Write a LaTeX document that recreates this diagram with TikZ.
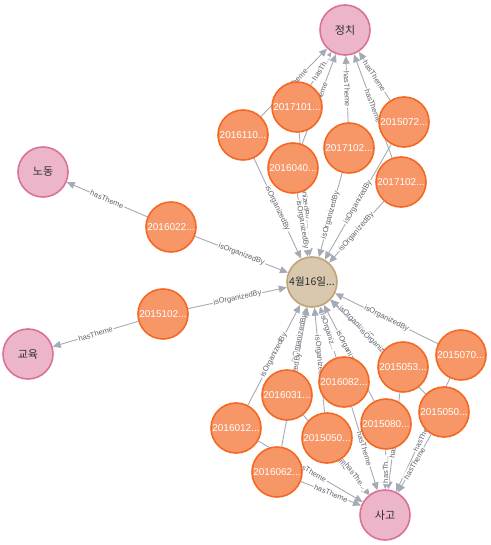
\documentclass[tikz,border=0pt]{standalone}
\usepackage{fontspec}
\setmainfont{Liberation Sans}
\newfontfamily\kr{Noto Sans CJK KR}
\usetikzlibrary{arrows.meta}
\definecolor{orfill}{HTML}{F79767}
\definecolor{orline}{HTML}{F36924}
\definecolor{pkfill}{HTML}{ECB5C9}
\definecolor{pkline}{HTML}{DA7298}
\definecolor{tnfill}{HTML}{D9C8AE}
\definecolor{tnline}{HTML}{C0A378}
\definecolor{edgec}{HTML}{A5ABB6}
\definecolor{labc}{HTML}{5E6269}
\definecolor{txtc}{HTML}{2A2C34}
\pgfdeclarelayer{background}
\pgfsetlayers{background,main}
\begin{document}
\begin{tikzpicture}[x=1pt,y=-1pt,
  ev/.style={circle, minimum size=50pt, inner sep=0pt, fill=orfill, draw=orline, line width=1.6pt, text=white, font=\fontsize{10}{12}\selectfont},
  th/.style={circle, minimum size=50pt, inner sep=0pt, fill=pkfill, draw=pkline, line width=1.6pt, text=txtc, font=\kr\fontsize{11}{13}\selectfont},
  og/.style={circle, minimum size=50pt, inner sep=0pt, fill=tnfill, draw=tnline, line width=1.6pt, text=txtc, font=\kr\fontsize{10.5}{12}\selectfont},
  rel/.style={draw=edgec, line width=0.9pt, -{Triangle[length=8pt,width=7pt]}},
  lab/.style={midway, sloped, fill=white, inner sep=1pt, text=labc, font=\fontsize{7.5}{8}\selectfont}
]
\useasboundingbox (0,0) rectangle (490,545);
% theme and organizer nodes
\node[th] (pol) at (345,30) {정치};
\node[th] (lab) at (43,172) {노동};
\node[th] (edu) at (28,354) {교육};
\node[th] (acc) at (385,515) {사고};
\node[og] (org) at (312,282) {4월16일...};
% event nodes
\node[ev] (t1) at (297,107) {2017101...};
\node[ev] (t2) at (243,135) {2016110...};
\node[ev] (t3) at (293,168) {2016040...};
\node[ev] (t4) at (349,148) {2017102...};
\node[ev] (t5) at (404,122) {2015072...};
\node[ev] (t6) at (401,182) {2017102...};
\node[ev] (l1) at (171,227) {2016022...};
\node[ev] (l2) at (163,314) {2015102...};
\node[ev] (b1) at (461,355) {2015070...};
\node[ev] (b2) at (403,367) {2015053...};
\node[ev] (b3) at (344,382) {2016082...};
\node[ev] (b4) at (287,395) {2016031...};
\node[ev] (b5) at (236,428) {2016012...};
\node[ev] (b6) at (277,472) {2016062...};
\node[ev] (b7) at (327,438) {2015050...};
\node[ev] (b8) at (386,424) {2015080...};
\node[ev] (b9) at (444,412) {2015050...};
\begin{pgfonlayer}{background}
% hasTheme edges
\draw[rel] (t1) -- node[lab]{hasTh...} (pol);
\draw[rel] (t2) -- node[lab]{hasTheme} (pol);
\draw[rel] (t3) -- node[lab]{hasTheme} (pol);
\draw[rel] (t4) -- node[lab]{hasTheme} (pol);
\draw[rel] (t5) -- node[lab]{hasTheme} (pol);
\draw[rel] (t6) -- node[lab]{hasTheme} (pol);
\draw[rel] (l1) -- node[lab]{hasTheme} (lab);
\draw[rel] (l2) -- node[lab]{hasTheme} (edu);
\draw[rel] (b1) -- node[lab]{hasTheme} (acc);
\draw[rel] (b2) -- node[lab]{hasTheme} (acc);
\draw[rel] (b3) -- node[lab]{hasTheme} (acc);
\draw[rel] (b4) -- node[lab]{hasTheme} (acc);
\draw[rel] (b5) -- node[lab]{hasTheme} (acc);
\draw[rel] (b6) -- node[lab]{hasTheme} (acc);
\draw[rel] (b7) -- node[lab]{hasThe...} (acc);
\draw[rel] (b8) -- node[lab]{hasTh...} (acc);
\draw[rel] (b9) -- node[lab]{hasTheme} (acc);
% isOrganizedBy edges
\draw[rel] (t1) -- node[lab]{isOrganizedBy} (org);
\draw[rel] (t2) -- node[lab]{isOrganizedBy} (org);
\draw[rel] (t3) -- node[lab]{isOrganizedBy} (org);
\draw[rel] (t4) -- node[lab]{isOrganizedBy} (org);
\draw[rel] (t5) -- node[lab]{isOrganizedBy} (org);
\draw[rel] (t6) -- node[lab]{isOrganizedBy} (org);
\draw[rel] (l1) -- node[lab]{isOrganizedBy} (org);
\draw[rel] (l2) -- node[lab]{isOrganizedBy} (org);
\draw[rel] (b1) -- node[lab]{isOrganizedBy} (org);
\draw[rel] (b2) -- node[lab]{isOrganizedBy} (org);
\draw[rel] (b3) -- node[lab]{isOrganiz...} (org);
\draw[rel] (b4) -- node[lab]{isOrganizedBy} (org);
\draw[rel] (b5) -- node[lab]{isOrganizedBy} (org);
\draw[rel] (b6) -- node[lab]{isOrganizedBy} (org);
\draw[rel] (b7) -- node[lab]{isOrganizedBy} (org);
\draw[rel] (b8) -- node[lab]{isOrganizedBy} (org);
\draw[rel] (b9) -- node[lab]{isOrganizedBy} (org);
\end{pgfonlayer}
\end{tikzpicture}
\end{document}
